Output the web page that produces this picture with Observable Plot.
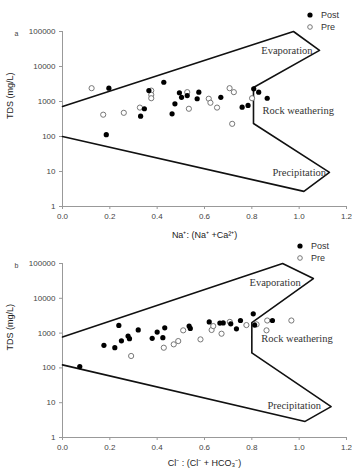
<!DOCTYPE html>
<html>
<head>
<meta charset="utf-8">
<script src="https://cdn.jsdelivr.net/npm/d3@7"></script>
<script src="https://cdn.jsdelivr.net/npm/@observablehq/plot@0.6"></script>
<style>
  html, body { margin: 0; padding: 0; background: #fff; }
  #wrap { position: relative; width: 352px; height: 472px; overflow: hidden; font-family: "Liberation Sans", Arial, sans-serif; }
  #wrap svg { overflow: visible; display: block; }
  .panel { position: absolute; left: 0; }
  .legend { position: absolute; font-size: 9px; color: #333; line-height: 12px; }
  .legend div { display: flex; align-items: center; height: 12px; }
  .legend svg { margin-right: 7px; }
</style>
</head>
<body>
<div id="wrap"></div>
<script>
// ---------- DATA ----------
const yTicks = [1, 10, 100, 1000, 10000, 100000];
const xTicks = [0, 0.2, 0.4, 0.6, 0.8, 1.0, 1.2];
const seriesNames = ["Post", "Pre"];

// Panel a: Na+/(Na+ + Ca2+) vs TDS
const aPostX = [0.196, 0.365, 0.346, 0.330, 0.185, 0.428, 0.494, 0.503, 0.527, 0.475, 0.463, 0.576, 0.569, 0.669, 0.759, 0.784, 0.808, 0.829, 0.865];
const aPostY = [2400, 2050, 620, 380, 113, 3550, 1780, 1320, 1480, 860, 445, 1850, 1200, 1320, 690, 770, 2300, 1850, 1240];
const aPreX = [0.123, 0.375, 0.375, 0.375, 0.327, 0.172, 0.259, 0.527, 0.534, 0.618, 0.625, 0.653, 0.706, 0.724, 0.717, 0.801];
const aPreY = [2400, 2050, 1550, 1240, 670, 420, 475, 1850, 620, 1200, 920, 670, 2400, 1850, 230, 1240];
const aBoundX = [0, 0.976, 1.086, 0.807, 0.807, 1.128, 1.02, 0];
const aBoundY = [720, 100000, 28800, 2500, 235, 9.4, 2.7, 100];

// Panel b: Cl-/(Cl- + HCO3-) vs TDS
const bPostX = [0.238, 0.320, 0.400, 0.277, 0.283, 0.249, 0.379, 0.175, 0.221, 0.073, 0.432, 0.424, 0.535, 0.540, 0.620, 0.665, 0.679, 0.711, 0.752, 0.735, 0.806, 0.812, 0.887];
const bPostY = [1660, 1230, 1070, 820, 690, 600, 710, 445, 380, 109, 1420, 740, 1590, 1360, 2100, 1940, 1960, 1850, 2300, 1330, 3570, 1700, 2300];
const bPreX = [0.290, 0.428, 0.470, 0.489, 0.510, 0.583, 0.630, 0.637, 0.672, 0.707, 0.777, 0.820, 0.865, 0.862, 0.967];
const bPreY = [220, 380, 475, 590, 1200, 660, 1230, 1590, 960, 2100, 1700, 1780, 2300, 1200, 2300];
const bBoundX = [0, 0.93, 1.06, 0.80, 0.80, 1.135, 1.025, 0];
const bBoundY = [770, 100000, 37000, 2000, 270, 7.7, 2.9, 122];

const regionNames = ["Evaporation", "Rock weathering", "Precipitation"];
const aRegionX = [0.84, 0.845, 0.887];
const aRegionY = [28800, 550, 9.3];
const bRegionX = [0.79, 0.84, 0.866];
const bRegionY = [28300, 700, 8.3];

const panels = [
  {tag: "a", xLabel: "Na\u207A: (Na\u207A +Ca\u00B2\u207A)", postX: aPostX, postY: aPostY, preX: aPreX, preY: aPreY,
   boundX: aBoundX, boundY: aBoundY, regX: aRegionX, regY: aRegionY,
   top: 0, height: 240, marginTop: 31, marginBottom: 34, legendTop: 9, legendLeft: 306},
  {tag: "b", xLabel: "Cl\u207B : (Cl\u207B + HCO\u2083\u207B)", postX: bPostX, postY: bPostY, preX: bPreX, preY: bPreY,
   boundX: bBoundX, boundY: bBoundY, regX: bRegionX, regY: bRegionY,
   top: 240, height: 232, marginTop: 23, marginBottom: 35, legendTop: 240, legendLeft: 296}
];

const wrap = document.getElementById("wrap");

for (const p of panels) {
  const post = p.postX.map((x, i) => ({x, y: p.postY[i]}));
  const pre = p.preX.map((x, i) => ({x, y: p.preY[i]}));
  const bound = p.boundX.map((x, i) => ({x, y: p.boundY[i]}));
  const regions = regionNames.map((name, i) => ({name, x: p.regX[i], y: p.regY[i]}));

  const chart = Plot.plot({
    width: 352,
    height: p.height,
    marginLeft: 62,
    marginRight: 6,
    marginTop: p.marginTop,
    marginBottom: p.marginBottom,
    style: {fontFamily: "Liberation Sans, Arial, sans-serif", fontSize: "8px", background: "#fff", overflow: "visible"},
    x: {domain: [0, 1.2], ticks: xTicks, tickFormat: d => d.toFixed(1), label: null},
    y: {type: "log", domain: [1, 100000], ticks: yTicks, tickFormat: d => String(d), label: null},
    marks: [
      Plot.ruleX([0], {stroke: "#999", strokeWidth: 1}),
      Plot.ruleY([1], {stroke: "#999", strokeWidth: 1}),
      Plot.axisX({ticks: xTicks, tickFormat: d => d.toFixed(1), tickSize: 3, tickPadding: 4, stroke: "#999", fill: "#444", fontSize: 8, label: null}),
      Plot.axisY({ticks: yTicks, tickFormat: d => String(d), tickSize: 3, tickPadding: 4, stroke: "#999", fill: "#444", fontSize: 8, label: null}),
      Plot.line(bound, {x: "x", y: "y", stroke: "#111", strokeWidth: 1.6, curve: "linear"}),
      Plot.dot(pre, {x: "x", y: "y", r: 2.6, stroke: "#777", strokeWidth: 1, fill: "#fff"}),
      Plot.dot(post, {x: "x", y: "y", r: 2.6, fill: "#000", stroke: "none"}),
      Plot.text(regions, {x: "x", y: "y", text: "name", textAnchor: "start", fontFamily: "Liberation Serif, Times New Roman, serif", fontSize: 10.5, fill: "#333"}),
      Plot.text([p.xLabel], {frameAnchor: "bottom", dy: p.tag === "a" ? 31 : 28, fontSize: 9, fill: "#222"}),
      Plot.text(["TDS (mg/L)"], {frameAnchor: "left", dx: -52, rotate: -90, fontSize: 9, fill: "#222"}),
      Plot.text([p.tag], {frameAnchor: "top-left", dx: -48, dy: 0, fontSize: 7, fill: "#444"})
    ]
  });
  const holder = document.createElement("div");
  holder.className = "panel";
  holder.style.top = p.top + "px";
  holder.appendChild(chart);
  wrap.appendChild(holder);

  const legend = document.createElement("div");
  legend.className = "legend";
  legend.style.top = p.legendTop + "px";
  legend.style.left = p.legendLeft + "px";
  legend.innerHTML =
    `<div><svg width="8" height="8"><circle cx="4" cy="4" r="2.6" fill="#000"/></svg>${seriesNames[0]}</div>` +
    `<div><svg width="8" height="8"><circle cx="4" cy="4" r="2.3" fill="#fff" stroke="#777" stroke-width="1"/></svg>${seriesNames[1]}</div>`;
  wrap.appendChild(legend);
}
</script>
</body>
</html>
